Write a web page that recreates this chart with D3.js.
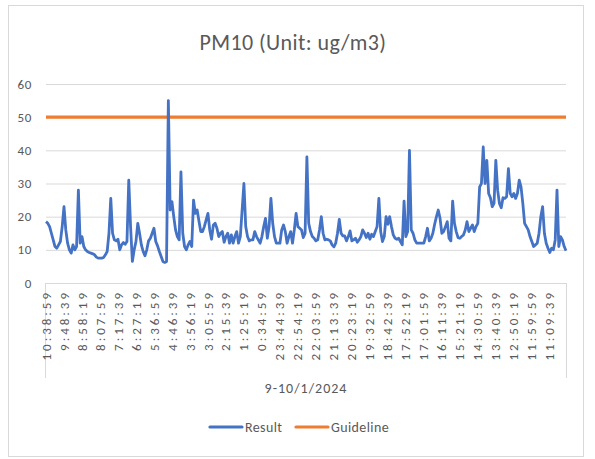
<!DOCTYPE html>
<html>
<head>
<meta charset="utf-8">
<script src="https://cdn.jsdelivr.net/npm/d3@7"></script>
<style>
  body { margin: 0; background: #fff; }
  text { font-family: Carlito, Calibri, "Liberation Sans Narrow", "DejaVu Sans Condensed", sans-serif; fill: #595959; }
</style>
</head>
<body>
<script>
//////////////////
// Data
//////////////////

// PM10 readings, newest first, one every ~5 minutes
var result = [
    18.5, 18, 17, 15, 13, 11, 10.5, 11.5, 12.5, 17,
    23, 16, 12, 10, 9, 11.5, 10, 11, 28, 12,
    14, 11, 10, 9.5, 9.2, 9, 8.8, 8.5, 7.8, 7.5,
    7.5, 7.5, 7.7, 8.5, 9.5, 15, 25.5, 15, 13, 12.7,
    13.2, 10, 11.5, 12.2, 11.7, 12.5, 31, 17, 6.5, 10,
    12.5, 18, 15, 11.5, 9.5, 8.2, 10, 12.7, 13.5, 15,
    16.5, 12.5, 11.2, 9.5, 8, 6.5, 6.2, 6.5, 55, 22,
    24.5, 20, 16, 14, 13, 33.5, 15, 11, 10, 11.5,
    12.5, 11, 25, 21, 22, 18.7, 15.5, 15.5, 17, 19,
    21, 16, 13.2, 17.5, 18, 16.5, 14, 15, 15.5, 12.3,
    14, 15, 12, 14.5, 12, 14, 15.5, 12, 14, 22,
    30, 17, 14, 12.7, 13, 13, 15.5, 14, 13, 12,
    14, 17, 19.5, 13.5, 17, 25.5, 18, 14, 12, 12,
    12, 16, 17.5, 15.5, 12, 14, 15.5, 12, 16, 21,
    17, 16.5, 16, 13.7, 15, 38, 18, 15.5, 14, 13.5,
    12.7, 13, 16, 20, 15, 13, 13.2, 13, 12.7, 11.5,
    10.9, 12, 15, 19.2, 15, 14.2, 14.2, 12.7, 14, 15.7,
    12.7, 13, 13.5, 12.3, 13, 14, 16, 15, 13.7, 15,
    13.2, 14.7, 14, 15.5, 17, 25.5, 15.5, 12.5, 14, 20,
    17.7, 20, 17, 14.5, 13.5, 13.2, 13.5, 12.5, 11.5, 24.7,
    14, 15.5, 40, 16, 15, 13, 12, 12, 12, 12,
    12, 14, 16.5, 12.7, 13.5, 15, 17.7, 20, 22, 19.5,
    15, 15.5, 17, 18.5, 13.5, 12.7, 24.7, 18, 15.5, 13.7,
    13.5, 14, 14.5, 16, 18.5, 15.5, 16.5, 17.5, 15.5, 17,
    18, 29, 30, 41, 30, 37, 27, 25.7, 23, 24,
    37, 28, 24, 22.7, 25.7, 25.5, 26, 34.5, 27, 26,
    27, 25.5, 27, 31, 29, 24, 18, 17, 16, 14,
    12.5, 11, 11.5, 12, 15, 20, 23, 15, 12, 10.5,
    9.2, 10.5, 10, 13, 28, 11, 14, 13, 11, 9.7
];

var guideline = 50;

// one label shown for every 10th reading
var timeLabels = ["10:38:59", "9:48:39", "8:58:19", "8:07:59", "7:17:39", "6:27:19",
    "5:36:59", "4:46:39", "3:56:19", "3:05:59", "2:15:39", "1:25:19", "0:34:59",
    "23:44:39", "22:54:19", "22:03:59", "21:13:39", "20:23:19", "19:32:59",
    "18:42:39", "17:52:19", "17:01:59", "16:11:39", "15:21:19", "14:30:59",
    "13:40:39", "12:50:19", "11:59:59", "11:09:39"];
var labelStep = 10;

var yTicks = [0, 10, 20, 30, 40, 50, 60];
var dateLabel = "9-10/1/2024";
var title = "PM10 (Unit: ug/m3)";
var seriesNames = ["Result", "Guideline"];
var colors = ["#4472C4", "#ED7D31"];

////////////////
// Make display!
////////////////

var W = 595, H = 459;
var plot = {left: 46, right: 566, top: 84, bottom: 283};

var svg = d3.select("body").append("svg")
    .attr("width", W)
    .attr("height", H);

// outer chart frame
svg.append("rect")
    .attr("x", 8.5).attr("y", 5.5)
    .attr("width", 575).attr("height", 451)
    .attr("fill", "#fff")
    .attr("stroke", "#d9d9d9");

var x = d3.scalePoint()
    .domain(d3.range(result.length))
    .range([plot.left, plot.right]);

var y = d3.scaleLinear()
    .domain([0, 60])
    .range([plot.bottom, plot.top]);

// gridlines
svg.append("g")
    .selectAll("line")
    .data(yTicks.slice(1))
  .enter().append("line")
    .attr("x1", plot.left).attr("x2", plot.right)
    .attr("y1", function(d) { return y(d) + 0.5; })
    .attr("y2", function(d) { return y(d) + 0.5; })
    .attr("stroke", "#d9d9d9");

// y labels
svg.append("g")
    .selectAll("text")
    .data(yTicks)
  .enter().append("text")
    .attr("x", 32)
    .attr("y", function(d) { return y(d); })
    .attr("dy", "0.35em")
    .attr("text-anchor", "end")
    .style("font-size", "13px")
    .style("letter-spacing", "0.6px")
    .text(function(d) { return d; });

// category axis line + end dividers
svg.append("line")
    .attr("x1", plot.left - 1).attr("x2", plot.right + 1)
    .attr("y1", plot.bottom + 0.5).attr("y2", plot.bottom + 0.5)
    .attr("stroke", "#d9d9d9");

svg.append("g")
    .selectAll("line")
    .data([plot.left - 0.5, plot.right + 0.5])
  .enter().append("line")
    .attr("x1", function(d) { return d; })
    .attr("x2", function(d) { return d; })
    .attr("y1", plot.bottom)
    .attr("y2", 378)
    .attr("stroke", "#d9d9d9");

// time labels, rotated
svg.append("g")
    .selectAll("text")
    .data(timeLabels)
  .enter().append("text")
    .attr("transform", function(d, i) {
        return "translate(" + x(i * labelStep) + "," + 290 + ") rotate(-90)";
    })
    .attr("dy", "0.35em")
    .attr("text-anchor", "end")
    .style("font-size", "13px")
    .style("letter-spacing", "3px")
    .text(function(d) { return d; });

svg.append("text")
    .attr("x", (plot.left + plot.right) / 2)
    .attr("y", 388)
    .attr("dy", "0.35em")
    .attr("text-anchor", "middle")
    .style("font-size", "14px")
    .style("letter-spacing", "1px")
    .text(dateLabel);

// guideline
svg.append("line")
    .attr("x1", plot.left).attr("x2", plot.right)
    .attr("y1", y(guideline)).attr("y2", y(guideline))
    .attr("stroke", colors[1])
    .attr("stroke-width", 3.2);

// result line
var line = d3.line()
    .x(function(d, i) { return x(i); })
    .y(function(d) { return y(d); });

svg.append("path")
    .datum(result)
    .attr("d", line)
    .attr("fill", "none")
    .attr("stroke", colors[0])
    .attr("stroke-width", 2.8)
    .attr("stroke-linejoin", "round");

// title
svg.append("text")
    .attr("x", 293)
    .attr("y", 42)
    .attr("dy", "0.35em")
    .attr("text-anchor", "middle")
    .style("font-size", "22px")
    .style("letter-spacing", "0.4px")
    .text(title);

// legend
var legendX = [210, 296];
var legend = svg.append("g")
    .selectAll("g")
    .data(seriesNames)
  .enter().append("g")
    .attr("transform", function(d, i) { return "translate(" + legendX[i] + ",427)"; });

legend.append("line")
    .attr("x1", 0).attr("x2", 32)
    .attr("stroke", function(d, i) { return colors[i]; })
    .attr("stroke-width", 3.2)
    .attr("stroke-linecap", "round");

legend.append("text")
    .attr("x", 35)
    .attr("dy", "0.35em")
    .style("font-size", "14px")
    .style("letter-spacing", "0.4px")
    .text(function(d) { return d; });
</script>
</body>
</html>
